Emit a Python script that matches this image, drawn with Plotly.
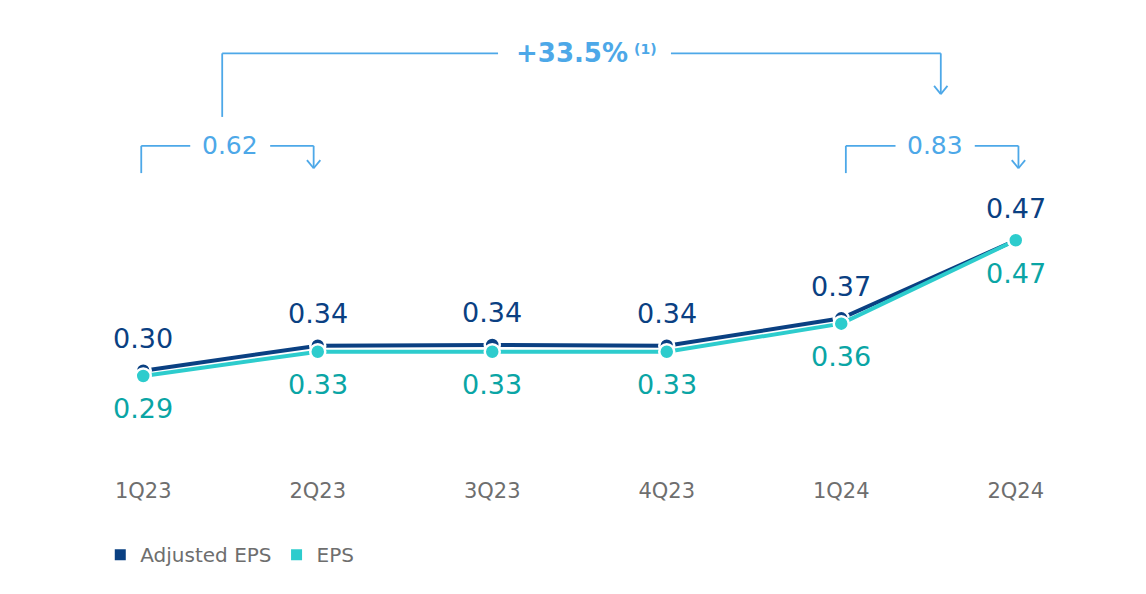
import plotly.graph_objects as go

quarters = ["1Q23", "2Q23", "3Q23", "4Q23", "1Q24", "2Q24"]
adjusted_eps = [0.298, 0.331, 0.332, 0.331, 0.367, 0.470]
eps = [0.291, 0.323, 0.323, 0.323, 0.360, 0.470]
adjusted_labels = ["0.30", "0.34", "0.34", "0.34", "0.37", "0.47"]
eps_labels = ["0.29", "0.33", "0.33", "0.33", "0.36", "0.47"]
bracket_values = ["0.62", "0.83"]
growth_label = "+33.5%"
growth_note = "(1)"

NAVY = "#0A4082"
AQUA = "#2DCCCD"
AQUA_TXT = "#0AA5A5"
LIGHT = "#4DA8E8"
GRAY = "#6E6E6E"

OFF = 8  # page body margin
W, H = 1146 - 2 * OFF, 594 - 2 * OFF
# plot area in screen pixels
L, R, T, B = 55.7, 1103.3, 123, 479


def px(xp):
    return (xp - L) / (R - L)


def py(yp):
    return (B - yp) / (B - T)


fig = go.Figure()
fig.add_trace(go.Scatter(
    x=quarters, y=adjusted_eps, mode="lines+markers", showlegend=False,
    line=dict(color=NAVY, width=4),
    marker=dict(size=15, color=NAVY, line=dict(color="white", width=2.5)),
    cliponaxis=False,
))
fig.add_trace(go.Scatter(
    x=quarters, y=eps, mode="lines+markers", showlegend=False,
    line=dict(color=AQUA, width=4),
    marker=dict(size=15, color=AQUA, line=dict(color="white", width=2.5)),
    cliponaxis=False,
))
# legend entries
fig.add_trace(go.Scatter(x=[None], y=[None], mode="markers", name="Adjusted EPS",
                         marker=dict(symbol="square", size=11, color=NAVY)))
fig.add_trace(go.Scatter(x=[None], y=[None], mode="markers", name="EPS",
                         marker=dict(symbol="square", size=11, color=AQUA)))

ann = []
for q, v, t in zip(quarters, adjusted_eps, adjusted_labels):
    ann.append(dict(x=q, y=v, text=t, showarrow=False, yshift=32, yanchor="middle",
                    font=dict(family="DejaVu Sans", size=27, color=NAVY)))
for q, v, t in zip(quarters, eps, eps_labels):
    ann.append(dict(x=q, y=v, text=t, showarrow=False, yshift=-33, yanchor="middle",
                    font=dict(family="DejaVu Sans", size=27, color=AQUA_TXT)))

# bracket labels
ann.append(dict(xref="paper", yref="paper", x=px(230), y=py(146.7), text=bracket_values[0],
                showarrow=False, xanchor="center", yanchor="middle",
                font=dict(family="DejaVu Sans", size=25, color=LIGHT)))
ann.append(dict(xref="paper", yref="paper", x=px(935), y=py(146.7), text=bracket_values[1],
                showarrow=False, xanchor="center", yanchor="middle",
                font=dict(family="DejaVu Sans", size=25, color=LIGHT)))
ann.append(dict(xref="paper", yref="paper", x=px(571.5), y=py(50.7), text="<b>" + growth_label + "</b>",
                showarrow=False, xanchor="center", yanchor="middle",
                font=dict(family="DejaVu Sans", size=26, color=LIGHT)))
ann.append(dict(xref="paper", yref="paper", x=px(646), y=py(46), text="<b>" + growth_note + "</b>",
                showarrow=False, xanchor="center", yanchor="middle",
                font=dict(family="DejaVu Sans", size=14, color=LIGHT)))

shapes = []


def seg(x0, y0, x1, y1):
    shapes.append(dict(type="line", xref="paper", yref="paper",
                       x0=px(x0), y0=py(y0), x1=px(x1), y1=py(y1),
                       line=dict(color=LIGHT, width=1.8)))


def chevron(x, tip):
    seg(x - 6.7, tip - 8.5, x, tip)
    seg(x + 6.7, tip - 8.5, x, tip)


# bracket 1
seg(141, 175, 141, 146.7)
seg(141, 146.7, 190, 146.7)
seg(270, 146.7, 313.5, 146.7)
seg(313.5, 146.7, 313.5, 170)
chevron(313.5, 170)
# bracket 2
seg(846, 175, 846, 146.7)
seg(846, 146.7, 895.7, 146.7)
seg(975, 146.7, 1018.7, 146.7)
seg(1018.7, 146.7, 1018.7, 170)
chevron(1018.7, 170)
# top bracket
seg(222, 116.7, 222, 50.7)
seg(222, 50.7, 498, 50.7)
seg(671, 50.7, 941, 50.7)
seg(941, 50.7, 941, 93)
chevron(941, 93)

fig.update_layout(
    width=W, height=H,
    margin=dict(l=L - OFF, r=(W + OFF) - R, t=T - OFF, b=(H + OFF) - B, pad=0),
    paper_bgcolor="white", plot_bgcolor="white",
    annotations=ann, shapes=shapes,
    showlegend=True,
    legend=dict(orientation="h", x=px(100), y=py(571), xanchor="left", yanchor="middle",
                font=dict(family="DejaVu Sans", size=20, color=GRAY),
                itemwidth=30, tracegroupgap=0, bgcolor="rgba(0,0,0,0)"),
    xaxis=dict(type="category", range=[-0.5, 5.5], showgrid=False, zeroline=False,
               showline=False, ticks="", ticklabelstandoff=10,
               tickfont=dict(family="DejaVu Sans", size=21, color=GRAY)),
    yaxis=dict(range=[0.1723, 0.6246], visible=False, showgrid=False, zeroline=False),
)

fig.write_html("out.html")
